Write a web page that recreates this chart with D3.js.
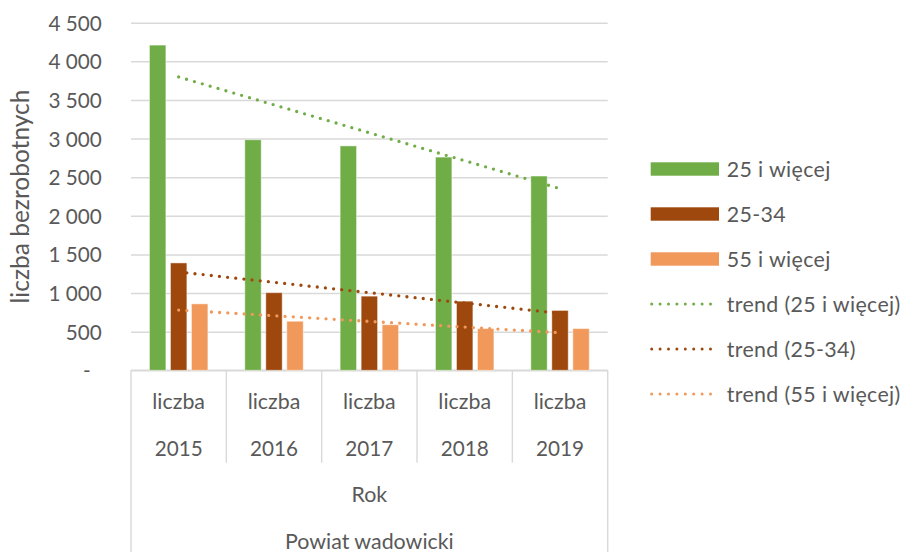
<!DOCTYPE html>
<html><head><meta charset="utf-8">
<script src="https://cdn.jsdelivr.net/npm/d3@7"></script>
<style>
body{margin:0;background:#fff}
text{font-family:Lato, "Open Sans", sans-serif; fill:#595959}
</style>
</head><body><svg id="c" width="905" height="552"></svg>
<script>
// ---- data ----
const years = ["2015","2016","2017","2018","2019"];
const level1Label = "liczba";
const level3Label = "Rok";
const level4Label = "Powiat wadowicki";
const seriesNames = ["25 i więcej","25-34","55 i więcej"];
const values25plus = [4210, 2985, 2905, 2760, 2515];
const values2534 = [1390, 1005, 960, 895, 775];
const values55plus = [860, 635, 590, 540, 540];
const yTicks = [0,500,1000,1500,2000,2500,3000,3500,4000,4500];
const yTitle = "liczba bezrobotnych";
const trendPrefix = "trend";

// ---- layout ----
const colors = ["#70AD47","#9E480E","#F1985B"];
const svg = d3.select("#c");
const L = 131, R = 607.7, T = 22.7, B = 370.3;
const fs = 20.7, fsText = 21.4, fsTitle = 24.5;
const grid = "#D9D9D9";

const series = seriesNames.map((n,i)=>({name:n, color:colors[i], values:[values25plus,values2534,values55plus][i]}));

const y = d3.scaleLinear().domain([0,4500]).range([B,T]);
const x0 = d3.scaleBand().domain(years).range([L,R]).padding(0);
const x1 = d3.scaleBand().domain(seriesNames).range([0,x0.bandwidth()]).paddingInner(0.219).paddingOuter(0.879);

// y axis + gridlines
const fmt = v => v===0 ? "-" : d3.format(",")(v).replace(/,/g," ");
const ya = svg.append("g").attr("transform",`translate(${L},0)`)
  .call(d3.axisLeft(y).tickValues(yTicks).tickFormat(fmt).tickSize(-(R-L)).tickPadding(29.3));
ya.select(".domain").remove();
ya.selectAll(".tick line").attr("stroke",grid).attr("stroke-width",1.4);
ya.selectAll(".tick text").attr("font-size",fs).attr("fill","#595959").attr("dy","0.36em")
  .attr("font-family","Lato")
  .filter(d=>d===0).attr("dx",-11);

// y title
svg.append("text").attr("transform",`translate(28.5,${(T+B)/2}) rotate(-90)`)
  .attr("text-anchor","middle").attr("font-size",fsTitle).text(yTitle);

// category axis lines
const cat = svg.append("g");
cat.append("line").attr("x1",L).attr("x2",R).attr("y1",B).attr("y2",B).attr("stroke",grid).attr("stroke-width",1.4);
years.forEach((yr,i)=>{
  if(i>0){
    cat.append("line").attr("x1",x0(yr)).attr("x2",x0(yr)).attr("y1",B).attr("y2",462.7).attr("stroke",grid).attr("stroke-width",1.4);
  }
});
[L,R].forEach(xx=>cat.append("line").attr("x1",xx).attr("x2",xx).attr("y1",B).attr("y2",552).attr("stroke",grid).attr("stroke-width",1.4));
years.forEach(yr=>{
  const cx = x0(yr)+x0.bandwidth()/2;
  cat.append("text").attr("x",cx).attr("y",409.3).attr("text-anchor","middle").attr("font-size",fsText).text(level1Label);
  cat.append("text").attr("x",cx).attr("y",456).attr("text-anchor","middle").attr("font-size",fs).text(yr);
});
cat.append("text").attr("x",(L+R)/2).attr("y",501.7).attr("text-anchor","middle").attr("font-size",fsText).text(level3Label);
cat.append("text").attr("x",(L+R)/2).attr("y",548.5).attr("text-anchor","middle").attr("font-size",fsText).text(level4Label);

// bars
const bars = svg.append("g");
series.forEach(s=>{
  bars.selectAll(null).data(years.map((yr,i)=>({yr,v:s.values[i]}))).enter().append("rect")
    .attr("x",d=>x0(d.yr)+x1(s.name)).attr("width",x1.bandwidth())
    .attr("y",d=>y(d.v)).attr("height",d=>B-y(d.v))
    .attr("fill",s.color).attr("stroke","#fff").attr("stroke-opacity",0.45).attr("stroke-width",1);
});

// trend lines (least squares)
function fit(vals){
  const xs=vals.map((_,i)=>i+1);
  const mx=d3.mean(xs), my=d3.mean(vals);
  const b=d3.sum(xs.map((x,i)=>(x-mx)*(vals[i]-my)))/d3.sum(xs.map(x=>(x-mx)**2));
  return x=> my + b*(x-mx);
}
const tr = svg.append("g");
series.forEach(s=>{
  const f = fit(s.values);
  const pts = [[1,f(1)],[years.length,f(years.length)]];
  tr.append("path")
    .attr("d", d3.line().x(p=>x0(years[p[0]-1])+x0.bandwidth()/2).y(p=>y(p[1]))(pts))
    .attr("stroke",s.color).attr("stroke-width",3.3).attr("fill","none")
    .attr("stroke-dasharray","0 8.2").attr("stroke-linecap","round");
});

// legend
const lg = svg.append("g");
const lx = 650.7, lw = 68.3, lt = 726.7;
const rows = series.map(s=>({type:"bar",s,label:s.name}))
  .concat(series.map(s=>({type:"trend",s,label:`${trendPrefix} (${s.name})`})));
rows.forEach((r,i)=>{
  const cy = 169 + i*45;
  if(r.type==="bar"){
    lg.append("rect").attr("x",lx).attr("y",cy-6.7).attr("width",lw).attr("height",13.4).attr("fill",r.s.color);
  } else {
    lg.append("line").attr("x1",lx+1).attr("x2",lx+lw-1).attr("y1",cy).attr("y2",cy)
      .attr("stroke",r.s.color).attr("stroke-width",3).attr("stroke-dasharray","0 8.4").attr("stroke-linecap","round");
  }
  lg.append("text").attr("x",lt).attr("y",cy+7.6).attr("font-size",fsText).attr("letter-spacing",0.35).text(r.label);
});
</script>
</body></html>
